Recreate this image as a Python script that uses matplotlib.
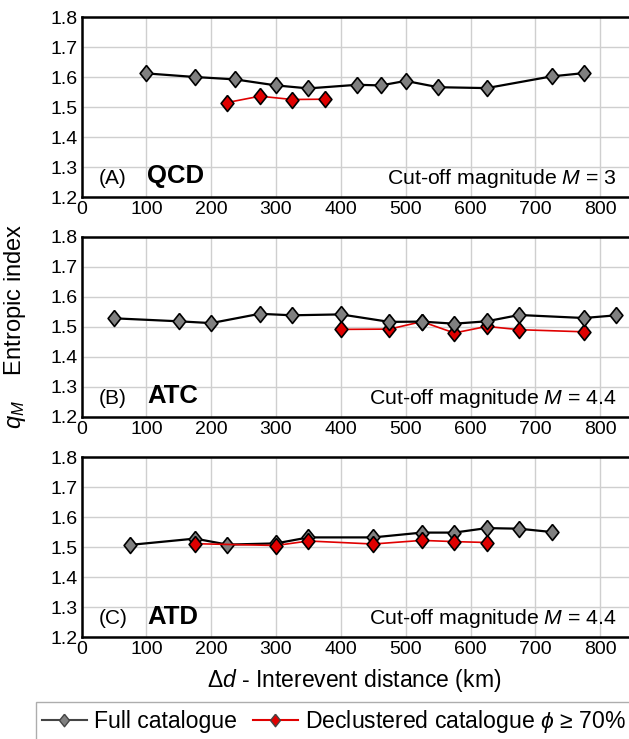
import matplotlib
matplotlib.use("Agg")
import matplotlib.pyplot as plt
from matplotlib.lines import Line2D

plt.rcParams['font.family'] = ['Liberation Sans', 'DejaVu Sans']
plt.rcParams['mathtext.fontset'] = 'custom'
plt.rcParams['mathtext.rm'] = 'Liberation Sans'
plt.rcParams['mathtext.it'] = 'Liberation Sans:italic'

# ---- data ----
a_full_x = [100, 175, 237, 300, 350, 425, 462, 500, 550, 625, 725, 775]
a_full_y = [1.612, 1.600, 1.592, 1.572, 1.562, 1.574, 1.572, 1.587, 1.566, 1.563, 1.602, 1.613]
a_decl_x = [225, 275, 325, 375]
a_decl_y = [1.515, 1.536, 1.525, 1.526]

b_full_x = [50, 150, 200, 275, 325, 400, 475, 525, 575, 625, 675, 775, 825]
b_full_y = [1.529, 1.519, 1.513, 1.544, 1.539, 1.542, 1.517, 1.518, 1.511, 1.519, 1.540, 1.530, 1.539]
b_decl_x = [400, 475, 525, 575, 625, 675, 775]
b_decl_y = [1.492, 1.493, 1.518, 1.480, 1.502, 1.491, 1.484]

c_full_x = [75, 175, 225, 300, 350, 450, 525, 575, 625, 675, 725]
c_full_y = [1.507, 1.528, 1.508, 1.512, 1.532, 1.532, 1.548, 1.548, 1.563, 1.561, 1.550]
c_decl_x = [175, 300, 350, 450, 525, 575, 625]
c_decl_y = [1.511, 1.505, 1.520, 1.510, 1.522, 1.518, 1.515]

panel_tags = ["(A)", "(B)", "(C)"]
panel_names = ["QCD", "ATC", "ATD"]
cutoffs = ["3", "4.4", "4.4"]
x_ticks = [0, 100, 200, 300, 400, 500, 600, 700, 800]
y_ticks = [1.2, 1.3, 1.4, 1.5, 1.6, 1.7, 1.8]

panels = [(a_full_x, a_full_y, a_decl_x, a_decl_y, False),
          (b_full_x, b_full_y, b_decl_x, b_decl_y, False),
          (c_full_x, c_full_y, c_decl_x, c_decl_y, True)]

W, H = 629, 739
fig = plt.figure(figsize=(W / 100, H / 100), dpi=100)

diamond = [(0, 1), (0.8, 0), (0, -1), (-0.8, 0), (0, 1)]
tops = [17, 237, 457]
left = 81.5
ax_h = 180

for i, (fx, fy, dx, dy, red_on_top) in enumerate(panels):
    top = tops[i]
    ax = fig.add_axes([left / W, 1 - (top + ax_h) / H, (W - left + 1) / W, ax_h / H])
    ax.set_xlim(0, 846)
    ax.set_ylim(1.2, 1.8)
    ax.set_xticks(x_ticks)
    ax.set_yticks(y_ticks)
    ax.set_yticklabels([f"{v:.1f}" for v in y_ticks])
    ax.grid(True, color='#cfcfcf', lw=1.0)
    ax.set_axisbelow(True)
    ax.tick_params(length=0, labelsize=14, pad=3)
    ax.tick_params(axis='y', pad=3)
    for s in ax.spines.values():
        s.set_linewidth(1.8)
        s.set_color('black')
    zf, zd = (3, 4) if red_on_top else (4, 3)
    ax.plot(fx, fy, color='black', lw=1.6, marker=diamond, ms=11.5,
            mfc='#808080', mec='black', mew=1.2, zorder=zf)
    ax.plot(dx, dy, color='#e00000', lw=1.2, marker=diamond, ms=11.5,
            mfc='#e00000', mec='black', mew=1.2, zorder=zd)
    ax.text(27, 1.243, panel_tags[i], fontsize=15, va='baseline', ha='left')
    ax.text(101, 1.245, panel_names[i], fontsize=18.5, fontweight='bold',
            va='baseline', ha='left')
    ax.text(825, 1.243, r"Cut-off magnitude $\mathit{M}$ = " + cutoffs[i],
            fontsize=15.3, va='baseline', ha='right')

fig.text(0.024, 1 - 326 / H, r"$q_M$    Entropic index", rotation=90, fontsize=17,
         ha='center', va='center')
fig.text(354 / W, 1 - 680 / H, r"$\mathit{Δd}$ - Interevent distance (km)",
         fontsize=16.5, ha='center', va='center')

h1 = Line2D([], [], color='#444444', lw=1.5, marker=diamond, ms=9,
            mfc='#808080', mec='#444444', mew=1.0)
h2 = Line2D([], [], color='#e00000', lw=1.5, marker=diamond, ms=9,
            mfc='#e00000', mec='#444444', mew=1.0)
fig.legend([h1, h2], ["Full catalogue", r"Declustered catalogue $\mathit{ϕ}$ ≥ 70%"],
           loc='upper left', bbox_to_anchor=(36 / W, 1 - 702 / H), ncol=2,
           fontsize=16.6, frameon=True, fancybox=False, edgecolor='#999999',
           handlelength=1.95, handletextpad=0.3, columnspacing=0.7,
           borderpad=0.25, borderaxespad=0)

fig.savefig("out.png", dpi=100)
